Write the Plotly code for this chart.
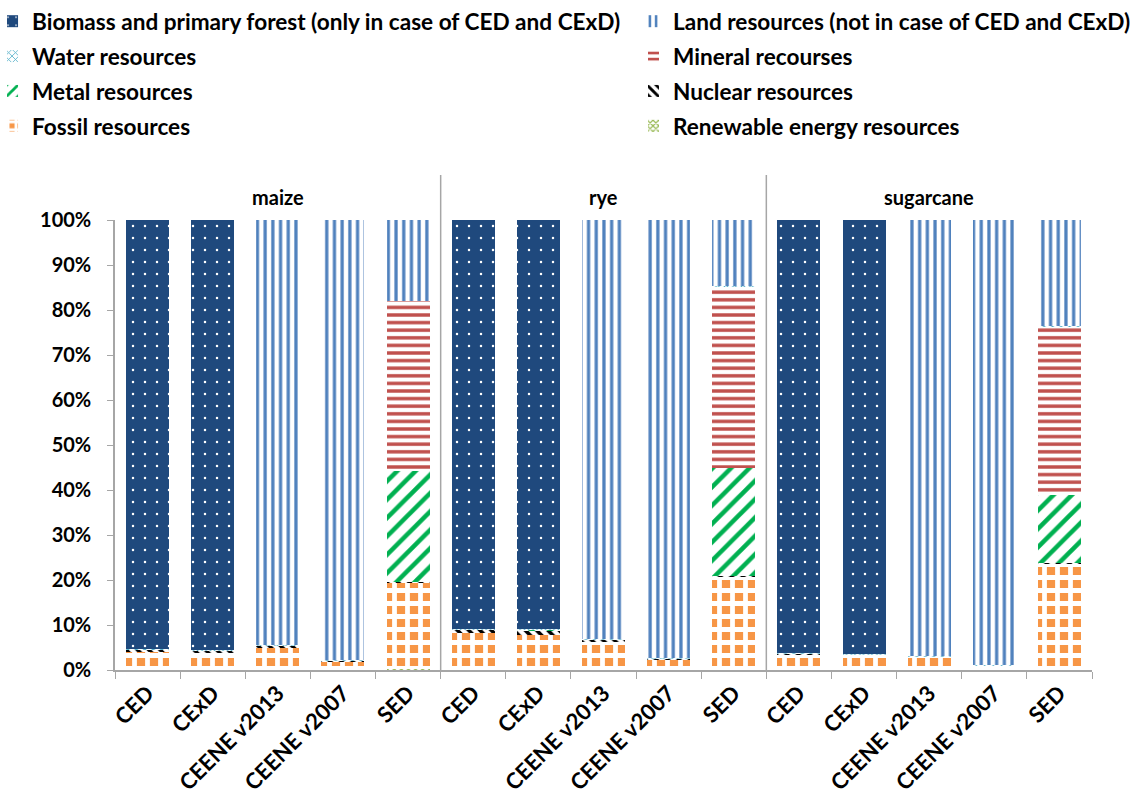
import plotly.graph_objects as go

groups = ["maize", "rye", "sugarcane"]
methods = ["CED", "CExD", "CEENE v2013", "CEENE v2007", "SED"]

# values in % (per bar, groups in order maize, rye, sugarcane)
renewable = [0.1, 0.1, 0.1, 0.05, 0.2, 0.1, 0.1, 0.1, 0.05, 0.1, 0.05, 0.05, 0.05, 0.02, 0.1]
fossil = [3.9, 3.7, 4.7, 1.9, 19.2, 8.1, 7.7, 6.1, 2.2, 20.6, 3.3, 3.3, 2.9, 0.9, 23.6]
nuclear = [0.5, 0.5, 0.6, 0.1, 0.1, 0.9, 1.0, 0.6, 0.3, 0.1, 0.3, 0.2, 0.1, 0.1, 0.1]
metal = [0, 0, 0, 0, 24.8, 0, 0.2, 0, 0, 24.1, 0, 0, 0, 0, 15.2]
mineral = [0, 0, 0, 0, 37.7, 0, 0, 0, 0, 40.4, 0, 0, 0, 0, 37.4]
water = [0.1, 0.2, 0.1, 0.1, 0.1, 0.1, 0.2, 0.1, 0.1, 0.1, 0.05, 0.1, 0.05, 0.05, 0.1]
land = [0, 0, 94.5, 97.85, 17.9, 0, 0, 93.1, 97.35, 14.6, 0, 0, 96.9, 98.93, 23.5]
biomass = [95.4, 95.5, 0, 0, 0, 90.8, 90.8, 0, 0, 0, 96.3, 96.35, 0, 0, 0]

y_ticks = [0, 10, 20, 30, 40, 50, 60, 70, 80, 90, 100]
y_tick_text = ["0%", "10%", "20%", "30%", "40%", "50%", "60%", "70%", "80%", "90%", "100%"]

cats = [f"{g}|{m}" for g in groups for m in methods]
labels = [m for g in groups for m in methods]

FONT = "Lato"

# (name, values, legend, rank, pattern shape, fg, bg, size, solidity)
series = [
    ("Renewable energy resources", renewable, "legend2", 4, "x", "#9BBB59", "white", 5, 0.5),
    ("Fossil resources", fossil, "legend", 4, "+", "white", "#F79646", 13, 0.6),
    ("Nuclear resources", nuclear, "legend2", 3, "\\", "black", "white", 8, 0.45),
    ("Metal resources", metal, "legend", 3, "/", "#00B050", "white", 13, 0.35),
    ("Mineral recourses", mineral, "legend2", 2, "-", "#C0504D", "white", 7.6, 0.45),
    ("Water resources", water, "legend", 2, "x", "#4BACC6", "white", 6, 0.3),
    ("Land resources (not in case of CED and CExD)", land, "legend2", 1, "|", "#4F81BD", "white", 7.7, 0.42),
    ("Biomass and primary forest (only in case of CED and CExD)", biomass, "legend", 1, ".", "white", "#1F497D", 12, 0.035),
]

fig = go.Figure()
for name, vals, leg, rank, shape, fg, bg, size, sol in series:
    fig.add_trace(go.Bar(
        x=cats, y=vals, name=name, legend=leg, legendrank=rank, legendgroup=name,
        marker=dict(color=bg, line=dict(width=0),
                    pattern=dict(shape=shape, fgcolor=fg, bgcolor=bg,
                                 size=size, solidity=sol, fillmode="replace")),
    ))

legend_common = dict(
    orientation="v", xref="paper", yref="container",
    xanchor="left", yanchor="top", y=1.0,
    font=dict(family=FONT, size=22.6, color="black", weight="bold"),
    traceorder="grouped", tracegroupgap=2.5, itemwidth=30, indentation=-15,
    bgcolor="rgba(0,0,0,0)",
)

fig.update_layout(
    barmode="stack",
    bargap=0.34,
    width=1136, height=796,
    margin=dict(l=115, r=44, t=220, b=126),
    plot_bgcolor="white", paper_bgcolor="white",
    font=dict(family=FONT, size=18, color="black", weight="bold"),
    legend=dict(x=-0.1105, **legend_common),
    legend2=dict(x=0.5466, **legend_common),
    showlegend=True,
)

fig.update_xaxes(
    type="category", tickmode="array", tickvals=cats, ticktext=labels,
    tickangle=-45, tickson="boundaries", ticks="outside", ticklen=7,
    tickcolor="#A6A6A6", showline=True, linecolor="#A6A6A6", linewidth=1.5,
    tickfont=dict(family=FONT, size=22, weight="bold"),
    showgrid=False, range=[-0.5, 14.5], automargin=False,
)
fig.update_yaxes(
    range=[0, 100], tickmode="array", tickvals=y_ticks, ticktext=y_tick_text,
    ticks="outside", ticklen=6, tickcolor="#A6A6A6",
    showline=True, linecolor="#A6A6A6", linewidth=1.5,
    showgrid=False, zeroline=False, automargin=False, ticklabelstandoff=12,
    tickfont=dict(family=FONT, size=20, weight="bold"),
)

for i, g in enumerate(groups):
    fig.add_annotation(x=cats[i * 5 + 2], y=1.051, yref="paper", xref="x",
                       yanchor="middle", text=g, showarrow=False,
                       font=dict(family=FONT, size=20, weight="bold"))
for xb in [4.5, 9.5]:
    fig.add_shape(type="line", xref="x", yref="paper", x0=xb, x1=xb, y0=0, y1=1.1,
                  line=dict(color="#A6A6A6", width=1.5))

fig.write_html("out.html", config={"displayModeBar": False},
               post_script="document.body.style.margin='0px';")
